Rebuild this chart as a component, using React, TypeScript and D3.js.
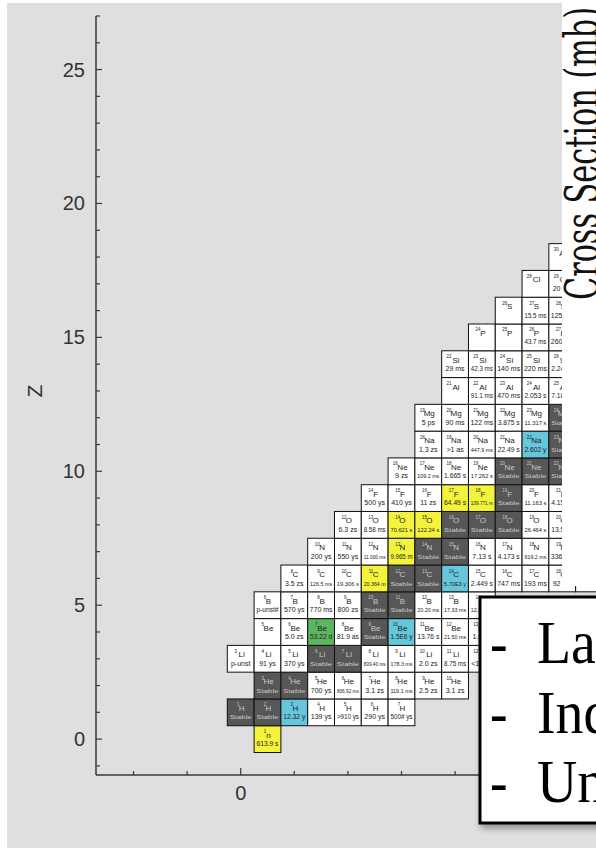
import React from "react";
import * as d3 from "d3";

// ---- data ----
const ELEMENTS = ["n", "H", "He", "Li", "Be", "B", "C", "N", "O", "F", "Ne", "Na", "Mg", "Al", "Si", "P", "S", "Cl", "Ar"];
const FIRST_N = [1, 0, 1, 0, 1, 1, 2, 3, 4, 5, 6, 7, 7, 8, 8, 9, 10, 11, 12];
const HALF_LIVES: string[][] = [
  ["613.9 s"],
  ["Stable", "Stable", "12.32 y", "139 ys", ">910 ys", "290 ys", "500# ys"],
  ["Stable", "Stable", "700 ys", "806.92 ms", "3.1 zs", "119.1 ms", "2.5 zs", "3.1 zs"],
  ["p-unst", "91 ys", "370 ys", "Stable", "Stable", "839.40 ms", "178.3 ms", "2.0 zs", "8.75 ms", "<10 ns"],
  ["", "5.0 zs", "53.22 d", "81.9 as", "Stable", "1.5E6 y", "13.76 s", "21.50 ms", "1.0 zs"],
  ["p-unst#", "570 ys", "770 ms", "800 zs", "Stable", "Stable", "20.20 ms", "17.33 ms", "12.36 ms"],
  ["3.5 zs", "126.5 ms", "19.306 s", "20.364 m", "Stable", "Stable", "5.70E3 y", "2.449 s", "747 ms", "193 ms", "92 ms", "46.2 ms"],
  ["200 ys", "550 ys", "11.000 ms", "9.965 m", "Stable", "Stable", "7.13 s", "4.173 s", "619.2 ms", "336 ms"],
  ["6.3 zs", "8.58 ms", "70.621 s", "122.24 s", "Stable", "Stable", "Stable", "26.464 s", "13.51 s"],
  ["500 ys", "410 ys", "11 zs", "64.49 s", "109.771 m", "Stable", "11.163 s", "4.158 s"],
  ["9 zs", "109.2 ms", "1.665 s", "17.262 s", "Stable", "Stable", "Stable"],
  ["1.3 zs", ">1 as", "447.9 ms", "22.49 s", "2.602 y", "Stable"],
  ["5 ps", "90 ms", "122 ms", "3.875 s", "11.317 s", "Stable"],
  ["", "91.1 ms", "470 ms", "2.053 s", "7.183 s"],
  ["29 ms", "42.3 ms", "140 ms", "220 ms", "2.245 s"],
  ["", "", "43.7 ms", "260 ms"],
  ["", "15.5 ms", "125 ms"],
  ["", "20 ms"],
  [""],
];
// K = stable (dark), W = unstable, Y = yellow, B = blue, G = green
const KINDS = [
  "Y",
  "KKBWWWW",
  "KKWWWWWW",
  "WWWKKWWWWW",
  "WWGWKBWWW",
  "WWWWKKWWW",
  "WWWYKKBWWWWW",
  "WWWYKKWWWW",
  "WWYYKKKWW",
  "WWWYYKWW",
  "WWWWKKK",
  "WWWWBK",
  "WWWWWK",
  "WWWWW",
  "WWWWW",
  "WWWW",
  "WWW",
  "WW",
  "W",
];
const Y_TICKS = d3.range(-1, 28, 1);
const X_TICKS = d3.range(-4, 22, 2);
const LEGEND_LINES = ["Latest", "Indirect", "Unmeasured"];

const FILL: Record<string, string> = { K: "#575757", W: "#ffffff", Y: "#f3f33c", B: "#66c6dc", G: "#5db55f" };

type Cell = { z: number; n: number; sym: string; hl: string; kind: string };
const CELLS: Cell[] = ELEMENTS.flatMap((sym, z) =>
  HALF_LIVES[z].map((hl, i) => ({ z, n: FIRST_N[z] + i, sym, hl, kind: KINDS[z][i] }))
);

export default function App() {
  const W = 596, H = 853;
  const x = d3.scaleLinear().domain([-5.4, 0]).range([96, 240.7]);
  const y = d3.scaleLinear().domain([-1.34, 27]).range([775, 16]);
  const cw = x(1) - x(0);
  const ch = y(0) - y(1);
  const sans = "'Liberation Sans', Arial, sans-serif";
  const serif = "'Liberation Serif', 'Times New Roman', serif";

  const hlText = (c: Cell, cx: number, top: number) => {
    if (!c.hl) return null;
    const stable = c.kind === "K";
    const base = stable ? 5.5 : 7;
    const est = 0.5 * c.hl.length * base;
    const fit = est > 22;
    const fs = fit ? Math.max(4.2, (base * 22) / est) : base;
    return (
      <text
        x={cx}
        y={top + 20.5}
        fontSize={fs}
        textAnchor="middle"
        fontFamily={sans}
        fill={stable ? "#c9c9c9" : "#222"}
        {...(fit || stable ? { textLength: 22, lengthAdjust: "spacingAndGlyphs" } : {})}
      >
        {c.hl}
      </text>
    );
  };

  return (
    <svg width={W} height={H} style={{ position: "absolute", left: 0, top: 0 }}>
      <defs>
        <filter id="sh" x="-10%" y="-10%" width="130%" height="130%">
          <feDropShadow dx="2" dy="4" stdDeviation="3" floodColor="#000" floodOpacity="0.35" />
        </filter>
      </defs>
      <rect x={0} y={0} width={W} height={H} fill="#ffffff" />
      <rect x={7} y={3} width={W - 7} height={845} fill="#dfdfdf" />

      {/* cells */}
      <g>
        {CELLS.map((c) => {
          const left = x(c.n - 0.5);
          const top = y(c.z + 0.5);
          const cx = x(c.n);
          const stable = c.kind === "K";
          const txt = stable ? "#c9c9c9" : "#222";
          const A = c.z + c.n;
          return (
            <g key={`${c.z}-${c.n}`}>
              <rect x={left} y={top} width={cw} height={ch} fill={FILL[c.kind]} stroke="#111" strokeWidth={1} />
              <text x={cx + 1} y={top + 12} fontSize={8} textAnchor="middle" fontFamily={sans} fill={txt}>
                {c.sym}
              </text>
              <text x={cx + 1 - c.sym.length * 2.3} y={top + 7.5} fontSize={4.5} textAnchor="end" fontFamily={sans} fill={txt}>
                {A}
              </text>
              {hlText(c, cx, top)}
            </g>
          );
        })}
      </g>

      {/* axes */}
      <g stroke="#3a3a3a" fill="none">
        <line x1={96} y1={16} x2={96} y2={775} strokeWidth={1.5} />
        <line x1={96} y1={775} x2={W} y2={775} strokeWidth={1.5} />
        {Y_TICKS.map((t) => (
          <line key={`yt${t}`} x1={96} x2={96 + (t % 5 === 0 ? 6 : 4)} y1={y(t)} y2={y(t)} strokeWidth={1.2} />
        ))}
        {X_TICKS.map((t) => (
          <line key={`xt${t}`} x1={x(t)} x2={x(t)} y1={775} y2={775 - (t % 10 === 0 ? 7 : 4)} strokeWidth={1.2} />
        ))}
      </g>
      <g fontFamily={sans} fontSize={20} fill="#333">
        {Y_TICKS.filter((t) => t % 5 === 0).map((t) => (
          <text key={`yl${t}`} x={85} y={y(t) + 7} textAnchor="end">
            {t}
          </text>
        ))}
        {X_TICKS.filter((t) => t % 10 === 0).map((t) => (
          <text key={`xl${t}`} x={x(t)} y={800} textAnchor="middle">
            {t}
          </text>
        ))}
        <text transform="translate(42,391) rotate(-90)" textAnchor="middle" fontSize={21}>
          Z
        </text>
      </g>

      {/* right panel */}
      <rect x={562} y={0} width={40} height={586} fill="#ffffff" />
      <text
        transform="translate(598,300) rotate(-90)"
        fontFamily="'DejaVu Serif', serif"
        fontSize={46}
        fill="#111"
        textLength={293}
        lengthAdjust="spacingAndGlyphs"
      >
        Cross Section (mb)
      </text>

      {/* legend */}
      <rect x={480} y={597} width={140} height={226} fill="#ffffff" stroke="#000" strokeWidth={3} filter="url(#sh)" />
      <g fontFamily={serif} fontSize={62} fill="#000">
        {LEGEND_LINES.map((s, i) => (
          <g key={s} transform={`translate(0,${663 + i * 69.5})`}>
            <text x={0} y={0} transform="translate(490,0) scale(0.85,1)">
              -
            </text>
            <text x={0} y={0} transform="translate(537,0) scale(0.9,1)">
              {s}
            </text>
          </g>
        ))}
      </g>
    </svg>
  );
}
